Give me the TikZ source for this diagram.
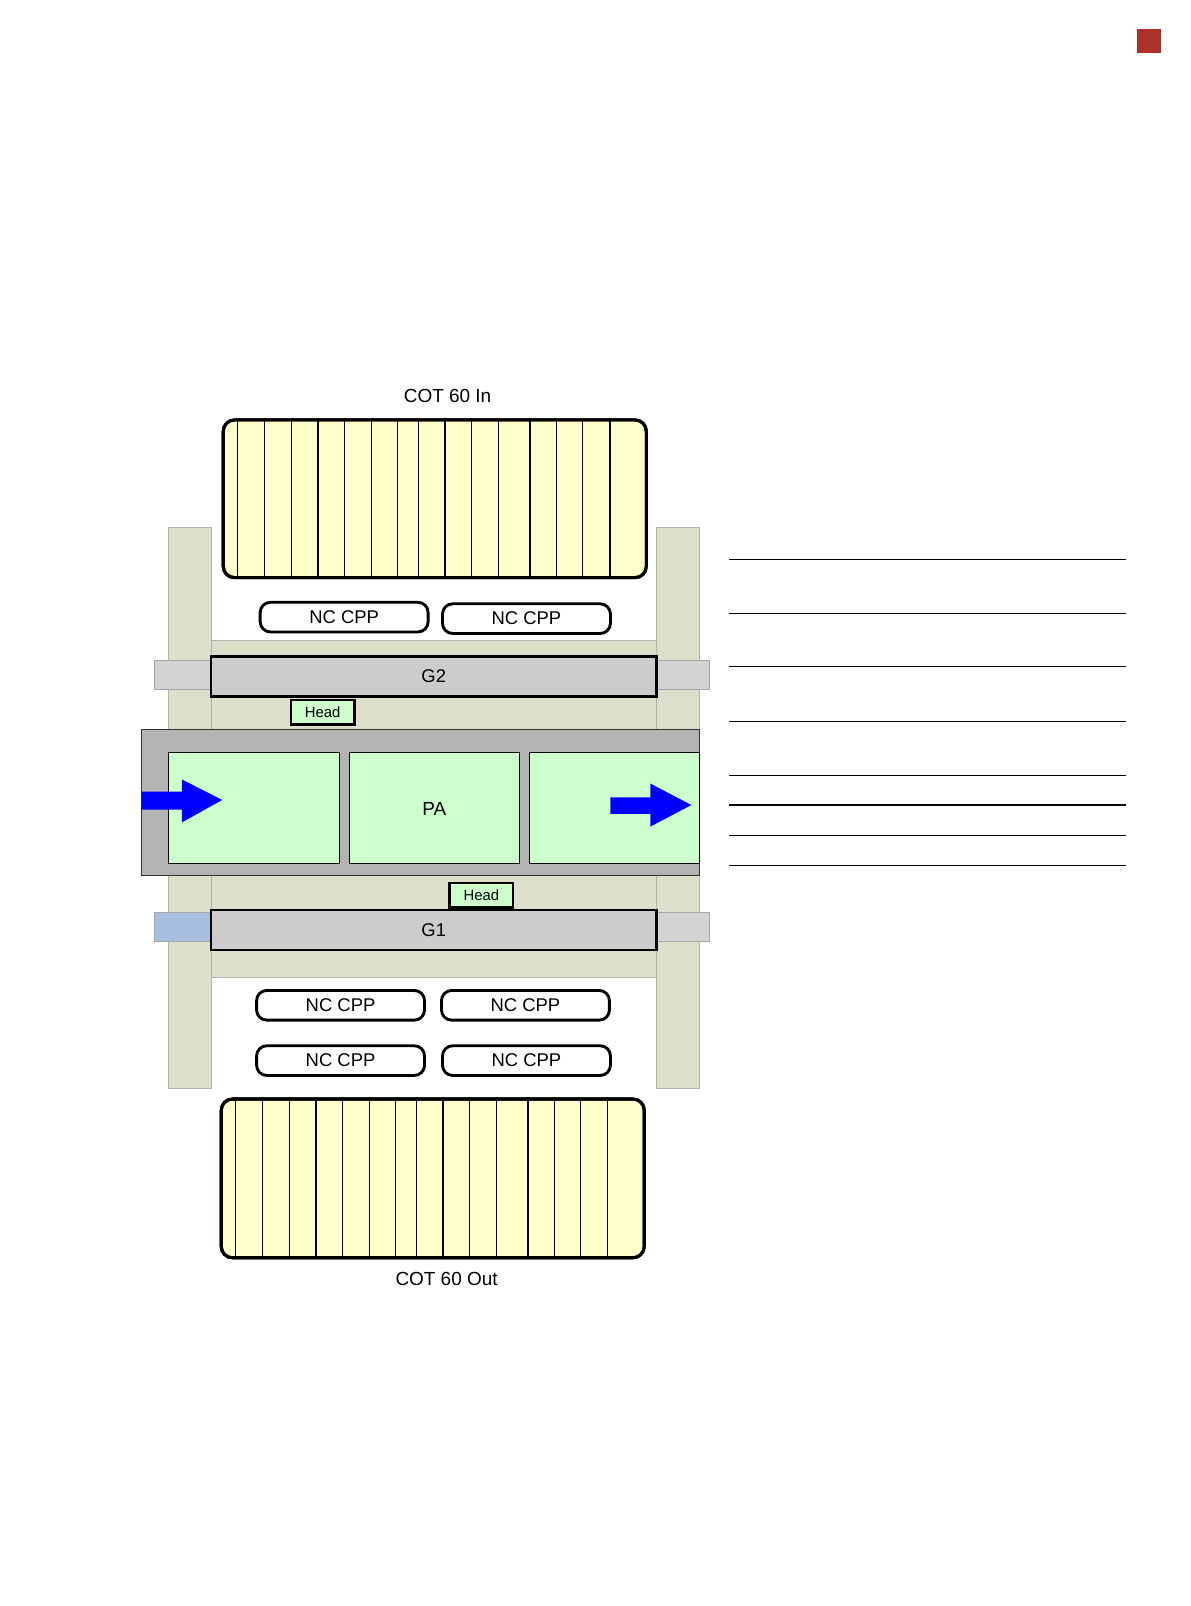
\documentclass[tikz,border=0pt]{standalone}
\usepackage{fontspec}
\setmainfont{Liberation Sans}
\definecolor{pillarc}{HTML}{DDDFCB}
\definecolor{gbarc}{HTML}{CCCCCC}
\definecolor{tabc}{HTML}{D3D3D3}
\definecolor{tabblue}{HTML}{A9BFE0}
\definecolor{paframe}{HTML}{B3B3B3}
\definecolor{headc}{HTML}{CCFFCC}
\definecolor{cotc}{HTML}{FFFFCC}
\definecolor{arrowblue}{HTML}{0000FF}
\definecolor{redsq}{HTML}{AE3129}
\tikzset{
  pillar/.style={fill=pillarc, draw=gray!60, line width=0.8pt},
  tab/.style={fill=tabc, draw=gray!70, line width=0.8pt},
  gbar/.style={rectangle, fill=gbarc, draw=black, line width=2.8pt, minimum width=435pt, minimum height=39pt, inner sep=0pt, font=\fontsize{18}{18}\selectfont},
  headbox/.style={rectangle, fill=headc, draw=black, line width=2.6pt, minimum width=62pt, minimum height=24pt, inner sep=0pt, font=\fontsize{14.5}{14.5}\selectfont},
  cpp/.style={rectangle, rounded corners=10pt, fill=white, draw=black, line width=2.8pt, minimum width=164pt, minimum height=29pt, inner sep=0pt, font=\fontsize{18}{18}\selectfont},
  panel/.style={rectangle, fill=headc, draw=black, line width=0.9pt, minimum width=166pt, minimum height=108pt, inner sep=0pt},
  cot/.style={rectangle, rounded corners=11pt, fill=cotc, draw=black, line width=3pt, minimum width=413pt, minimum height=154pt, inner sep=0pt},
  lbl/.style={font=\fontsize{18.5}{18.5}\selectfont, inner sep=0pt},
  bluearrow/.style={fill=arrowblue, draw=none},
  rule/.style={draw=black, line width=1.1pt}
}
\begin{document}
\begin{tikzpicture}[x=1pt,y=-1pt]
\useasboundingbox (0,0) rectangle (1162,1568);
% red square
\fill[redsq] (1110,28) rectangle (1134,52);
% pillars
\draw[pillar] (164,515) rectangle (206,1063);
\draw[pillar] (641,515) rectangle (683,1063);
% bands
\draw[pillar] (206,625) rectangle (641,712);
\draw[pillar] (206,855) rectangle (641,954);
% tabs
\draw[tab] (151,645) rectangle (206,673);
\draw[tab] (641,645) rectangle (693,673);
\draw[tab, fill=tabblue] (151,891) rectangle (206,919);
\draw[tab] (641,891) rectangle (693,919);
% G bars
\node[gbar] (g2) at (423.5,660.5) {G2};
\node[gbar] (g1) at (423.5,908) {G1};
% heads
\node[headbox] (headtop) at (315,695.5) {Head};
\node[headbox] (headbot) at (470,874) {Head};
% PA frame
\draw[fill=paframe, draw=black!80, line width=0.9pt] (138,712) rectangle (683,855);
\node[panel, minimum width=167pt] (p1) at (247.5,789) {};
\node[panel] (p2) at (424,789) {};
\node[panel] (p3) at (600,789) {};
\node[lbl] (pa) at (424,790) {PA};
% arrows
\fill[bluearrow] (138,773) -- (177.5,773) -- (177.5,761) -- (217,781) -- (177.5,803) -- (177.5,790.5) -- (138,790.5) -- cycle;
\fill[bluearrow] (596,778.5) -- (635,778.5) -- (635,765) -- (675,786) -- (635,807) -- (635,794.5) -- (596,794.5) -- cycle;
% COT top
\node[lbl] (cotintxt) at (437,387) {COT 60 In};
\node[cot] (cotin) at (424.5,487) {};
\foreach \o in {15.5,42,68,94,120,146,172,192,218,244,270,301,327,352,379}
  \draw[line width=1.1pt] ([xshift=\o pt]cotin.north west) -- ([xshift=\o pt]cotin.south west);
\node[cot, fill=none] at (cotin) {};
% NC CPP
\node[cpp] (cpp1) at (336,602.5) {NC CPP};
\node[cpp] (cpp2) at (514,604) {NC CPP};
\node[cpp] (cpp3) at (332.5,981.5) {NC CPP};
\node[cpp] (cpp4) at (513,981.5) {NC CPP};
\node[cpp] (cpp5) at (332.5,1035.5) {NC CPP};
\node[cpp] (cpp6) at (514,1035.5) {NC CPP};
% COT bottom
\node[cot, minimum height=155pt] (cotout) at (422.5,1150.5) {};
\foreach \o in {15.5,42,68,94,120,146,172,192,218,244,270,301,327,352,379}
  \draw[line width=1.1pt] ([xshift=\o pt]cotout.north west) -- ([xshift=\o pt]cotout.south west);
\node[cot, fill=none, minimum height=155pt] at (cotout) {};
\node[lbl] (cotouttxt) at (436,1249) {COT 60 Out};
% right rules
\foreach \y in {546,599,651,704,757,786,816,845}
  \draw[rule] (712,\y) -- (1099,\y);
\end{tikzpicture}
\end{document}
